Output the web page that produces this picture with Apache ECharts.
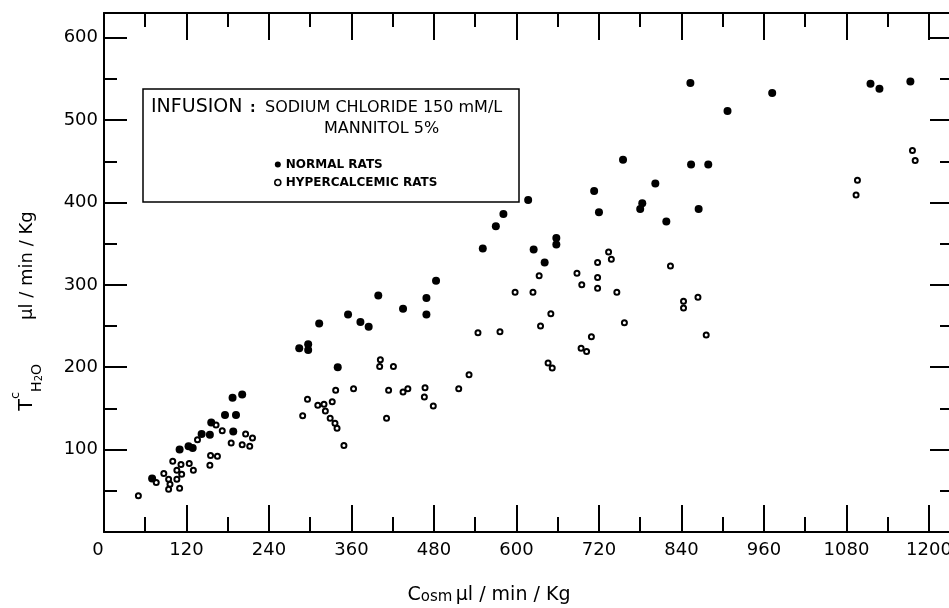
<!DOCTYPE html>
<html><head><meta charset="utf-8">
<script src="https://cdn.jsdelivr.net/npm/echarts@6/dist/echarts.min.js"></script>
<style>html,body{margin:0;padding:0;background:#fff}#c{width:949px;height:608px}</style>
</head><body><div id="c"></div>
<script>
// Tick labels
const xTickLabels = [0, 120, 240, 360, 480, 600, 720, 840, 960, 1080, 1200];
const yTickLabels = [100, 200, 300, 400, 500, 600];

// NORMAL RATS (filled circles)
const normalX = [70,110,123,129,142,154,156,176,188,192,187,201,
  581,570,551,483,399,469,435,469,355,373,385,313,284,297,297,340,
  713,802,617,720,783,780,865,818,658,658,625,641,
  972,907,879,1115,1128,1173,853,755,854];
const normalY = [65,100,104,102,119,118,133,142,122,142,163,167,
  386,371,344,305,287,284,271,264,264,255,249,253,223,228,221,200,
  414,423,403,388,399,392,392,377,357,349,343,327,
  533,511,446,544,538,547,545,452,446];

// HYPERCALCEMIC RATS (open circles)
const hyperX = [50,76,87,94,96,94,100,106,112,113,106,110,124,130,136,155,165,154,163,172,185,201,206,212,216,289,296,311,
  598,544,576,402,401,421,531,516,467,466,442,435,414,363,337,332,320,322,329,336,339,411,479,349,
  734,738,718,633,688,718,695,718,746,824,624,650,635,843,843,864,757,709,694,702,876,646,652,
  1176,1180,1096,1094];
const hyperY = [44,60,71,64,58,52,86,75,82,70,64,53,83,75,112,93,92,81,130,123,108,106,119,104,114,141,161,154,
  291,242,243,209,201,201,191,174,175,164,174,170,172,174,172,158,155,147,138,132,126,138,153,105,
  340,331,327,311,314,309,300,296,291,323,291,265,250,280,272,285,254,237,223,219,239,205,199,
  463,451,427,409];

const seriesNames = ['NORMAL RATS', 'HYPERCALCEMIC RATS'];
const FONT = 'DejaVu Sans';
const X_MAX = 1235, Y_MAX = 630;

function zip(a, b) { return a.map((v, i) => [v, b[i]]); }

function xAxisDef(position, interval, tickLen, showLine, showLabel) {
  return {
    type: 'value', position: position, min: 0, max: X_MAX, interval: interval,
    axisLine: { show: showLine, onZero: false, lineStyle: { color: '#000', width: 2 } },
    axisTick: { show: true, inside: true, length: tickLen, lineStyle: { color: '#000', width: 2 } },
    splitLine: { show: false },
    axisLabel: showLabel ? {
      show: true, margin: 9, color: '#000', fontFamily: FONT, fontSize: 18, showMaxLabel: false,
      formatter: v => xTickLabels.indexOf(v) < 0 ? '' : (v === 0 ? '{z|0}' : String(v)),
      rich: { z: { fontFamily: FONT, fontSize: 18, color: '#000', padding: [0, 12, 0, 0] } }
    } : { show: false }
  };
}
function yAxisDef(position, interval, tickLen, showLine, showLabel) {
  return {
    type: 'value', position: position, min: 0, max: Y_MAX, interval: interval,
    axisLine: { show: showLine, onZero: false, lineStyle: { color: '#000', width: 2 } },
    axisTick: { show: true, inside: true, length: tickLen, lineStyle: { color: '#000', width: 2 } },
    splitLine: { show: false },
    axisLabel: showLabel ? {
      show: true, margin: 6, color: '#000', fontFamily: FONT, fontSize: 18, showMinLabel: false, showMaxLabel: false,
      formatter: v => yTickLabels.indexOf(v) < 0 ? '' : String(v)
    } : { show: false }
  };
}

const chart = echarts.init(document.getElementById('c'), null, { renderer: 'canvas' });
chart.setOption({
  backgroundColor: '#fff',
  animation: false,
  grid: { left: 104, right: -4, top: 13, bottom: 76, outerBoundsMode: 'none', containLabel: false },
  xAxis: [
    xAxisDef('bottom', 120, 27, true, true),
    xAxisDef('bottom', 60, 15, false, false),
    xAxisDef('top', 120, 27, true, false),
    xAxisDef('top', 60, 14, false, false)
  ],
  yAxis: [
    yAxisDef('left', 100, 23, true, true),
    yAxisDef('left', 50, 13, false, false),
    yAxisDef('right', 100, 23, true, false),
    yAxisDef('right', 50, 13, false, false)
  ],
  legend: {
    orient: 'vertical', left: 274, top: 158, itemWidth: 6, itemHeight: 6, itemGap: 5,
    padding: 0, selectedMode: false,
    textStyle: { color: '#000', fontFamily: FONT, fontSize: 12, fontWeight: 'bold', lineHeight: 13 },
    data: [
      { name: seriesNames[0], icon: 'circle', itemStyle: { color: '#000', borderWidth: 0, opacity: 1 } },
      { name: seriesNames[1], icon: 'circle', itemStyle: { color: '#fff', borderColor: '#000', borderWidth: 1.6, opacity: 1 } }
    ]
  },
  graphic: [
    { type: 'rect', shape: { x: 143, y: 89, width: 376, height: 113 }, style: { fill: 'none', stroke: '#000', lineWidth: 1.5 }, z: 10 },
    { type: 'text', x: 151, y: 107, style: { text: 'INFUSION', font: '19px "DejaVu Sans"', fill: '#000', verticalAlign: 'middle' }, z: 10 },
    { type: 'text', x: 250, y: 108, style: { text: ':', font: 'bold 14px "DejaVu Sans"', fill: '#000', verticalAlign: 'middle' }, z: 10 },
    { type: 'text', x: 265, y: 108, style: { text: 'SODIUM CHLORIDE 150 mM/L', font: '16px "DejaVu Sans"', fill: '#000', verticalAlign: 'middle' }, z: 10 },
    { type: 'text', x: 324, y: 129, style: { text: 'MANNITOL 5%', font: '16px "DejaVu Sans"', fill: '#000', verticalAlign: 'middle' }, z: 10 },
    { type: 'text', x: 489, y: 595, style: {
        text: '{c|C}{o|osm} {u|μl / min / Kg}', align: 'center', verticalAlign: 'middle',
        rich: {
          c: { fontFamily: FONT, fontSize: 19, color: '#000' },
          o: { fontFamily: FONT, fontSize: 15, color: '#000', padding: [4, 0, 0, 0] },
          u: { fontFamily: FONT, fontSize: 19, color: '#000' }
        } }, z: 10 },
    { type: 'text', x: 27, y: 311, rotation: Math.PI / 2, style: {
        text: '{t|T}{sup|c}{sub|H}{sub2|2}{sub|O}{u|μl / min / Kg}', align: 'center', verticalAlign: 'middle',
        rich: {
          t: { fontFamily: FONT, fontSize: 19, color: '#000' },
          sup: { fontFamily: FONT, fontSize: 13, color: '#000', padding: [0, 0, 22, 0] },
          sub: { fontFamily: FONT, fontSize: 14, color: '#000', padding: [20, 0, 0, 0] },
          sub2: { fontFamily: FONT, fontSize: 10, color: '#000', padding: [24, 0, 0, 0] },
          u: { fontFamily: FONT, fontSize: 18, color: '#000', padding: [0, 0, 0, 44] }
        } }, z: 10 }
  ],
  series: [
    { name: seriesNames[0], type: 'scatter', xAxisIndex: 0, yAxisIndex: 0, symbol: 'circle', symbolSize: 8,
      itemStyle: { color: '#000', opacity: 1 }, data: zip(normalX, normalY), z: 3 },
    { name: seriesNames[1], type: 'scatter', xAxisIndex: 0, yAxisIndex: 0, symbol: 'circle', symbolSize: 5,
      itemStyle: { color: '#fff', borderColor: '#000', borderWidth: 2, opacity: 1 }, data: zip(hyperX, hyperY), z: 2 }
  ]
});
</script>
</body></html>
